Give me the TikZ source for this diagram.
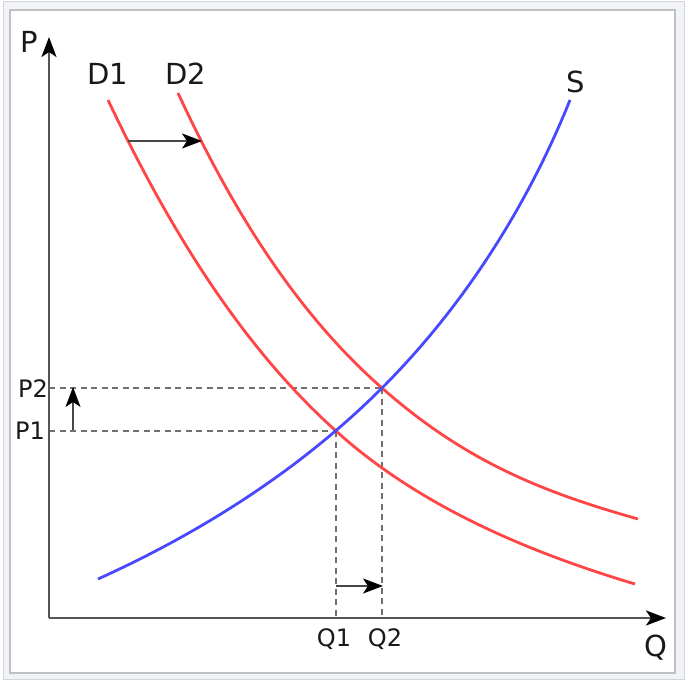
\documentclass[tikz,border=0pt]{standalone}
\usepackage{fontspec}
\setmainfont{DejaVu Sans}
\usetikzlibrary{arrows.meta}
\definecolor{dred}{HTML}{FF4545}
\definecolor{sblue}{HTML}{4848FF}
\definecolor{axisgray}{HTML}{555555}
\definecolor{dashgray}{HTML}{707070}
\definecolor{frameout}{HTML}{D2D5D9}
\definecolor{framefill}{HTML}{F2F3F5}
\definecolor{framein}{HTML}{BDC1C6}
\tikzset{
  demand/.style={draw=dred, line width=2.8pt},
  supply/.style={draw=sblue, line width=2.8pt},
  axisline/.style={draw=axisgray, line width=2.4pt, -{Stealth[length=20pt,width=15pt,inset=5pt,color=black]}},
  guide/.style={draw=dashgray, line width=1.6pt, dash pattern=on 6pt off 4.5pt},
  shiftarrow/.style={draw=black!72, line width=2pt, -{Stealth[length=20pt,width=15pt,inset=5pt,color=black]}},
  biglabel/.style={inner sep=0pt, anchor=base, text=black!90, font=\fontsize{29}{30}\selectfont},
  smalllabel/.style={inner sep=0pt, anchor=base, text=black!90, font=\fontsize{24}{25}\selectfont},
}
\begin{document}
\begin{tikzpicture}[x=1pt,y=-1pt]
\useasboundingbox (0,0) rectangle (688,682);
% frame
\draw[frameout, fill=framefill, line width=1pt] (3,2) rectangle (684,679);
\draw[framein, fill=white, line width=1.5pt] (10,10) rectangle (675,673);
% coordinates
\coordinate (O) at (49,618);
\coordinate (Ytip) at (49,37);
\coordinate (Xtip) at (666,618);
\coordinate (E1) at (336,431);
\coordinate (E2) at (382,388);
\coordinate (P1a) at (49,431);
\coordinate (P2a) at (49,388);
\coordinate (Q1a) at (336,618);
\coordinate (Q2a) at (382,618);
% guides
\draw[guide] (P2a) -- (E2);
\draw[guide] (P1a) -- (E1);
\draw[guide] (E1) -- (Q1a);
\draw[guide] (E2) -- (Q2a);
% axes
\draw[axisline] (O) -- (Ytip);
\draw[axisline] (O) -- (Xtip);
% curves
\draw[demand] (108,100) .. controls (165,220) and (237,342) .. (E1)
  .. controls (419,506) and (528,552) .. (635,584);
\draw[demand] (178,93) .. controls (228,201) and (292,309) .. (E2)
  .. controls (467,463) and (546,493) .. (638,519);
\draw[supply] (98,579) .. controls (202,532) and (301,469) .. (E2)
  .. controls (463,307) and (527,207) .. (570,100);
% shift arrows
\coordinate (A1s) at (128,141);
\coordinate (A1e) at (202,141);
\draw[shiftarrow] (A1s) -- (A1e);
\coordinate (A2s) at (73,430);
\coordinate (A2e) at (73,387);
\draw[shiftarrow] (A2s) -- (A2e);
\coordinate (A3s) at (336,586);
\coordinate (A3e) at (383,586);
\draw[shiftarrow] (A3s) -- (A3e);
% labels
\node[biglabel] (lP) at (29,53) {P};
\node[biglabel] (lD1) at (108,85) {D1};
\node[biglabel] (lD2) at (186,85) {D2};
\node[biglabel] (lS) at (576,93) {S};
\node[biglabel] (lQ) at (656,656) {Q};
\node[smalllabel] (lP2) at (33,397) {P2};
\node[smalllabel] (lP1) at (30,439) {P1};
\node[smalllabel] (lQ1) at (334,646) {Q1};
\node[smalllabel] (lQ2) at (385,646) {Q2};
\end{tikzpicture}
\end{document}
